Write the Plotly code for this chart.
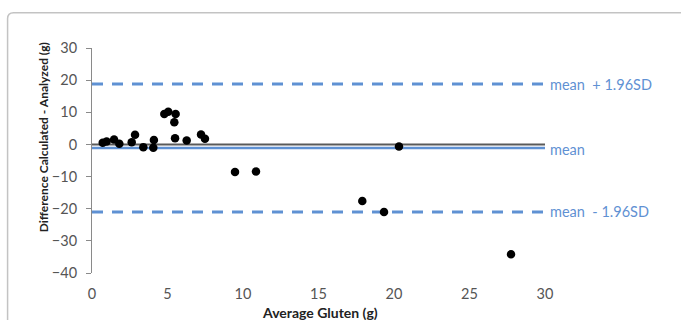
import plotly.graph_objects as go

# Data
avg_gluten = [0.71, 0.97, 1.46, 1.81, 2.63, 2.85, 3.40, 4.06, 4.10, 4.79, 5.05, 5.54, 5.45, 5.50,
              6.27, 7.22, 7.48, 9.47, 10.86, 17.90, 19.34, 20.33, 27.75]
difference = [0.53, 0.93, 1.55, 0.22, 0.71, 3.00, -0.84, -1.02, 1.40, 9.50, 10.20, 9.50, 6.90, 1.95,
              1.24, 3.10, 1.77, -8.60, -8.40, -17.60, -21.00, -0.62, -34.20]
mean_diff = -1.1
upper_loa = 18.8
lower_loa = -21.0
line_x = [0, 30]
x_ticks = [0, 5, 10, 15, 20, 25, 30]
y_ticks = [30, 20, 10, 0, -10, -20, -30, -40]
line_labels = ["mean \u00a0+ 1.96SD", "mean", "mean \u00a0- 1.96SD"]

BLUE = "#5f91d3"
FONT = "Lato"

fig = go.Figure()
# zero line
fig.add_trace(go.Scatter(x=line_x, y=[0, 0], mode="lines",
                         line=dict(color="#5a5a5a", width=2), hoverinfo="skip"))
# mean line
fig.add_trace(go.Scatter(x=line_x, y=[mean_diff, mean_diff], mode="lines",
                         line=dict(color=BLUE, width=2.5), hoverinfo="skip"))
for v in (upper_loa, lower_loa):
    fig.add_trace(go.Scatter(x=line_x, y=[v, v], mode="lines",
                             line=dict(color=BLUE, width=3, dash="11px,9px"), hoverinfo="skip"))
fig.add_trace(go.Scatter(x=avg_gluten, y=difference, mode="markers",
                         marker=dict(color="black", size=8.5)))

# line labels
for txt, v, dy in zip(line_labels, [upper_loa, mean_diff, lower_loa], [0, -2, 0]):
    fig.add_annotation(x=30, y=v, xref="x", yref="y", text=txt, showarrow=False,
                       xanchor="left", yanchor="middle", xshift=3, yshift=dy,
                       font=dict(family=FONT, size=14.5, color=BLUE))

# axis titles
fig.add_annotation(x=(320 - 92) / 453.5, y=(273.3 - 313) / 225.8, xref="paper", yref="paper",
                   text="<b>Average Gluten (g)</b>", showarrow=False, xanchor="center", yanchor="middle",
                   font=dict(family=FONT, size=14, color="#222222"))
fig.add_annotation(x=(43 - 92) / 453.5, y=(273.3 - 137) / 225.8, xref="paper", yref="paper",
                   text="<b>Difference Calculated - Analyzed (g)</b>", showarrow=False, textangle=-90,
                   xanchor="center", yanchor="middle",
                   font=dict(family=FONT, size=12, color="#222222"))

# frame (rounded corner, top-left)
W, H = 453.5, 225.8
def px(xp):
    return (xp - 92) / W
def py(yp):
    return (273.3 - yp) / H
r = 6
path = (f"M {px(7.5)},{py(330)} L {px(7.5)},{py(12 + r)} "
        f"Q {px(7.5)},{py(12)} {px(7.5 + r)},{py(12)} L {px(690)},{py(12)}")
fig.add_shape(type="path", path=path, xref="paper", yref="paper",
              line=dict(color="#c3c3c3", width=1.5))

fig.update_layout(
    width=681, height=320,
    margin=dict(l=92, r=681 - 545.5, t=47.5, b=320 - 273.3),
    paper_bgcolor="white", plot_bgcolor="white",
    showlegend=False,
    xaxis=dict(range=[0, 30], tickvals=x_ticks, showgrid=False, zeroline=False, showline=False,
               ticks="", tickfont=dict(family=FONT, size=14.5, color="#555555"),
               ticklabelstandoff=10, fixedrange=True),
    yaxis=dict(range=[-40, 30], tickvals=y_ticks, showgrid=False, zeroline=False, showline=True,
               linecolor="#8a8a8a", linewidth=1, ticks="outside", ticklen=5, tickcolor="#8a8a8a",
               tickfont=dict(family=FONT, size=14.5, color="#555555"), ticklabelstandoff=6,
               fixedrange=True),
)

fig.write_html("out.html", config={"displayModeBar": False},
               post_script="document.body.style.margin='0';document.body.style.overflow='hidden';")
